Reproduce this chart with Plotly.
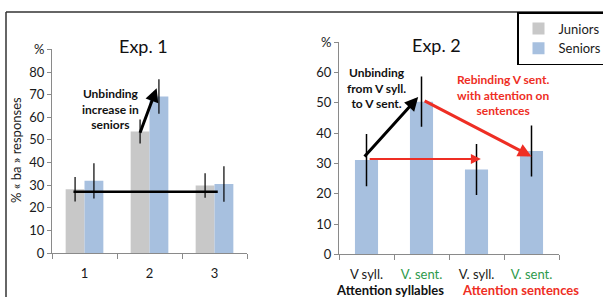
import plotly.graph_objects as go

W, H = 603, 297
FONT = "Lato"


def pxx(p):
    return p / W


def pxy(p):
    return 1 - p / H


# ---------------- data ----------------
exp1_groups = ["1", "2", "3"]
juniors = [28.2, 53.7, 29.8]
juniors_err = [5.4, 5.3, 5.4]
seniors_exp1 = [31.9, 69.2, 30.5]
seniors_exp1_err = [7.8, 7.6, 7.9]

exp2_conditions = ["V syll.", "V. sent.", "V. syll.", "V. sent."]
exp2_label_colors = ["#1a1a1a", "#2E9A4C", "#1a1a1a", "#2E9A4C"]
seniors_exp2 = [31.1, 50.4, 28.0, 34.1]
seniors_exp2_err = [8.6, 8.3, 8.4, 8.4]

y1_ticks = [0, 10, 20, 30, 40, 50, 60, 70, 80, 90]
y1_labels = ["0", "10", "20", "30", "40", "50", "60", "70", "80", "%"]
y2_ticks = [0, 10, 20, 30, 40, 50, 60, 70]
y2_labels = ["0", "10", "20", "30", "40", "50", "60", "%"]

GRAY = "#C8C8C8"
BLUE = "#A7C0DF"
RED = "#EE2E24"
AXIS = "#8A8A8A"

fig = go.Figure()

err = dict(type="data", width=0, color="black", thickness=1.2)

fig.add_trace(go.Bar(
    name="Juniors", x=list(range(len(exp1_groups))), y=juniors,
    width=0.29, offset=-0.29, marker=dict(color=GRAY, line=dict(width=0)),
    error_y=dict(err, array=juniors_err), xaxis="x", yaxis="y",
))
fig.add_trace(go.Bar(
    name="Seniors", x=list(range(len(exp1_groups))), y=seniors_exp1,
    width=0.29, offset=0, marker=dict(color=BLUE, line=dict(width=0)),
    error_y=dict(err, array=seniors_exp1_err), xaxis="x", yaxis="y",
))
fig.add_trace(go.Bar(
    name="Seniors", x=list(range(len(exp2_conditions))), y=seniors_exp2,
    width=0.42, offset=-0.21, marker=dict(color=BLUE, line=dict(width=0)),
    error_y=dict(err, array=seniors_exp2_err, thickness=1.5), xaxis="x2", yaxis="y2",
    showlegend=False,
))

tickfont = dict(family=FONT, size=13, color="#1a1a1a")

exp2_ticktext = [f"<span style='color:{c}'>{t}</span>" for t, c in zip(exp2_conditions, exp2_label_colors)]

common_x = dict(showline=True, linecolor=AXIS, linewidth=1, showgrid=False, zeroline=False,
                ticks="", tickfont=tickfont, fixedrange=True)
common_y = dict(showline=True, linecolor=AXIS, linewidth=1, showgrid=False, zeroline=False,
                ticks="outside", ticklen=4, tickcolor=AXIS, tickfont=tickfont)

fig.update_layout(
    width=W, height=H, margin=dict(l=0, r=0, t=0, b=0, autoexpand=False),
    paper_bgcolor="white", plot_bgcolor="white",
    barmode="overlay",
    font=dict(family=FONT, size=13, color="#1a1a1a"),
    xaxis=dict(common_x, domain=[pxx(52), pxx(247)], range=[-0.5, 2.5],
               tickmode="array", tickvals=[0, 1, 2], ticktext=exp1_groups, anchor="y",
               ticklabelstandoff=8,
               minor=dict(tickmode="array", tickvals=[-0.5, 0.5, 1.5, 2.5], ticks="outside",
                          ticklen=5, tickcolor=AXIS, showgrid=False)),
    yaxis=dict(common_y, domain=[pxy(253), pxy(49.4)], range=[0, 90],
               tickmode="array", tickvals=y1_ticks, ticktext=y1_labels, anchor="x"),
    xaxis2=dict(common_x, domain=[pxx(339), pxx(559)], range=[-0.5, 3.5],
                tickmode="array", tickvals=[0, 1, 2, 3], ticktext=exp2_ticktext, anchor="y2",
                ticklabelstandoff=8,
                minor=dict(tickmode="array", tickvals=[-0.5, 0.5, 1.5, 2.5, 3.5], ticks="outside",
                           ticklen=5, tickcolor=AXIS, showgrid=False)),
    yaxis2=dict(common_y, domain=[pxy(254.3), pxy(42.3)], range=[0, 70],
                tickmode="array", tickvals=y2_ticks, ticktext=y2_labels, anchor="x2"),
    legend=dict(x=pxx(517), y=pxy(12), xanchor="left", yanchor="top",
                bordercolor="black", borderwidth=1.5, bgcolor="white",
                font=dict(family=FONT, size=13, color="#1a1a1a"),
                itemwidth=30, tracegroupgap=2),
    showlegend=True,
)

# outer frame
fig.add_shape(type="line", xref="paper", yref="paper", x0=pxx(6), x1=pxx(6), y0=0, y1=pxy(12),
              line=dict(color="#333333", width=1.5))
fig.add_shape(type="line", xref="paper", yref="paper", x0=pxx(6), x1=1, y0=pxy(12), y1=pxy(12),
              line=dict(color="#333333", width=1.5))

# horizontal reference line in Exp. 1
fig.add_shape(type="line", xref="x", yref="y", x0=-0.17, x1=2.05, y0=27.1, y1=27.1,
              line=dict(color="black", width=2.5))

ann = []


def label(text, x, y, size, color="#111", xref="paper", yref="paper", **kw):
    ann.append(dict(text=text, xref=xref, yref=yref, x=x, y=y, xanchor="center",
                    yanchor="middle", showarrow=False,
                    font=dict(family=FONT, size=size, color=color), **kw))


# titles
label("Exp. 1", pxx(143), pxy(46), 18)
label("Exp. 2", pxx(436), pxy(45), 18)
# y axis title
label("% « ba » responses", pxx(16), pxy(150), 13, "#1a1a1a", textangle=-90)
# group labels under exp 2
label("<b>Attention syllables</b>", 0.43, pxy(290), 13, "#111", xref="x2")
label("<b>Attention sentences</b>", 2.8, pxy(290), 13, RED, xref="x2")
# annotation texts
label("<b>Unbinding<br>increase in<br>seniors</b>", pxx(110), pxy(109), 12)
label("<b>Unbinding<br>from V syll.<br>to V sent.</b>", pxx(376), pxy(88), 12)
label("<b>Rebinding V sent.<br>with attention on<br>sentences</b>", pxx(503), pxy(95), 12, RED)


def arrow(x, y, ax, ay, xr, yr, width, color, size=0.9):
    ann.append(dict(x=x, y=y, ax=ax, ay=ay, xref=xr, yref=yr, axref=xr, ayref=yr,
                    text="", showarrow=True, arrowhead=2, arrowsize=size,
                    arrowwidth=width, arrowcolor=color))


arrow(1.11, 72.8, 0.846, 52.5, "x", "y", 3, "black")
arrow(0.94, 51.9, -0.06, 31.8, "x2", "y2", 3, "black")
arrow(2.08, 31.5, 0.03, 31.5, "x2", "y2", 2, RED, 1)
arrow(3.0, 32.3, 1.03, 50.9, "x2", "y2", 3, RED)
fig.update_layout(annotations=ann)

fig.write_html("out.html", config={"displayModeBar": False},
               post_script="document.body.style.margin='0';")
